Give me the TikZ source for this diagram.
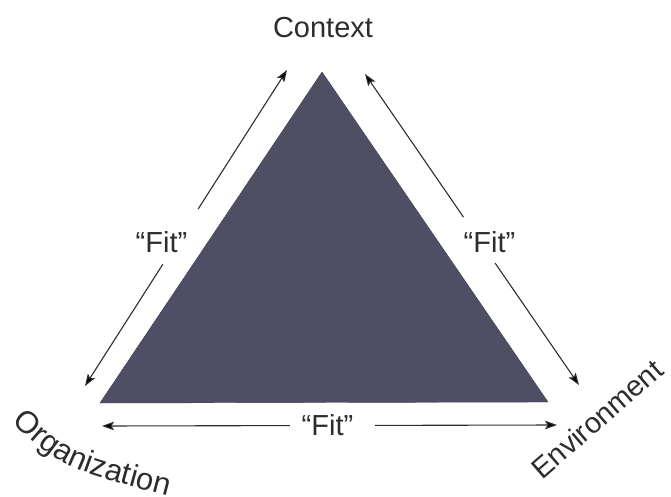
\documentclass[tikz,border=0pt]{standalone}
\usepackage{fontspec}
\setmainfont{Liberation Sans}
\usetikzlibrary{arrows.meta,decorations.text,calc}
\definecolor{tri}{RGB}{78,78,100}
\definecolor{ink}{RGB}{45,45,45}
\newcommand\figfont{\fontsize{29}{34}\selectfont}
\newcommand\orgfont{\fontsize{31}{34}\selectfont}
\begin{document}
\begin{tikzpicture}[x=1pt,y=-1pt,
  conn/.style={draw=ink, line width=1.1pt, -{Stealth[length=12pt,width=8.5pt,inset=2.5pt]}},
  lbl/.style={text=ink, font=\figfont, inner sep=0pt, anchor=base}]
\useasboundingbox (0,0) rectangle (671,497);
% triangle
\coordinate (A) at (322,72);
\coordinate (B) at (100,403);
\coordinate (C) at (548,402);
\path[fill=tri, draw=tri!80!black] (A) -- (B) -- (C) -- cycle;
% labels
\node[lbl] (ctx) at (323,38) {Context};
\node[lbl] (fitL) at (161.5,252) {“Fit”};
\node[lbl] (fitR) at (489.5,252) {“Fit”};
\node[lbl] (fitB) at (327.5,435) {“Fit”};
\node[lbl, anchor=center, rotate=41] (env) at (597,419) {Environment};
\path[decorate, decoration={text along path, text={|\orgfont|Organization}, text align=left, text color=ink}]
  (12,422) .. controls (62,468) .. (180,499);
% arrow ends
\coordinate (lt) at (287,70);
\coordinate (lb) at (85,386);
\coordinate (rt) at (365,74);
\coordinate (rb) at (579,385);
\coordinate (bl) at (102,426);
\coordinate (br) at (557,425);
\draw[conn] ($(lt)!0.44!(lb)$) -- (lt);
\draw[conn] ($(lt)!0.615!(lb)$) -- (lb);
\draw[conn] ($(rt)!0.46!(rb)$) -- (rt);
\draw[conn] ($(rt)!0.608!(rb)$) -- (rb);
\draw[conn] ($(bl)!0.413!(br)$) -- (bl);
\draw[conn] ($(bl)!0.6!(br)$) -- (br);
\end{tikzpicture}
\end{document}
